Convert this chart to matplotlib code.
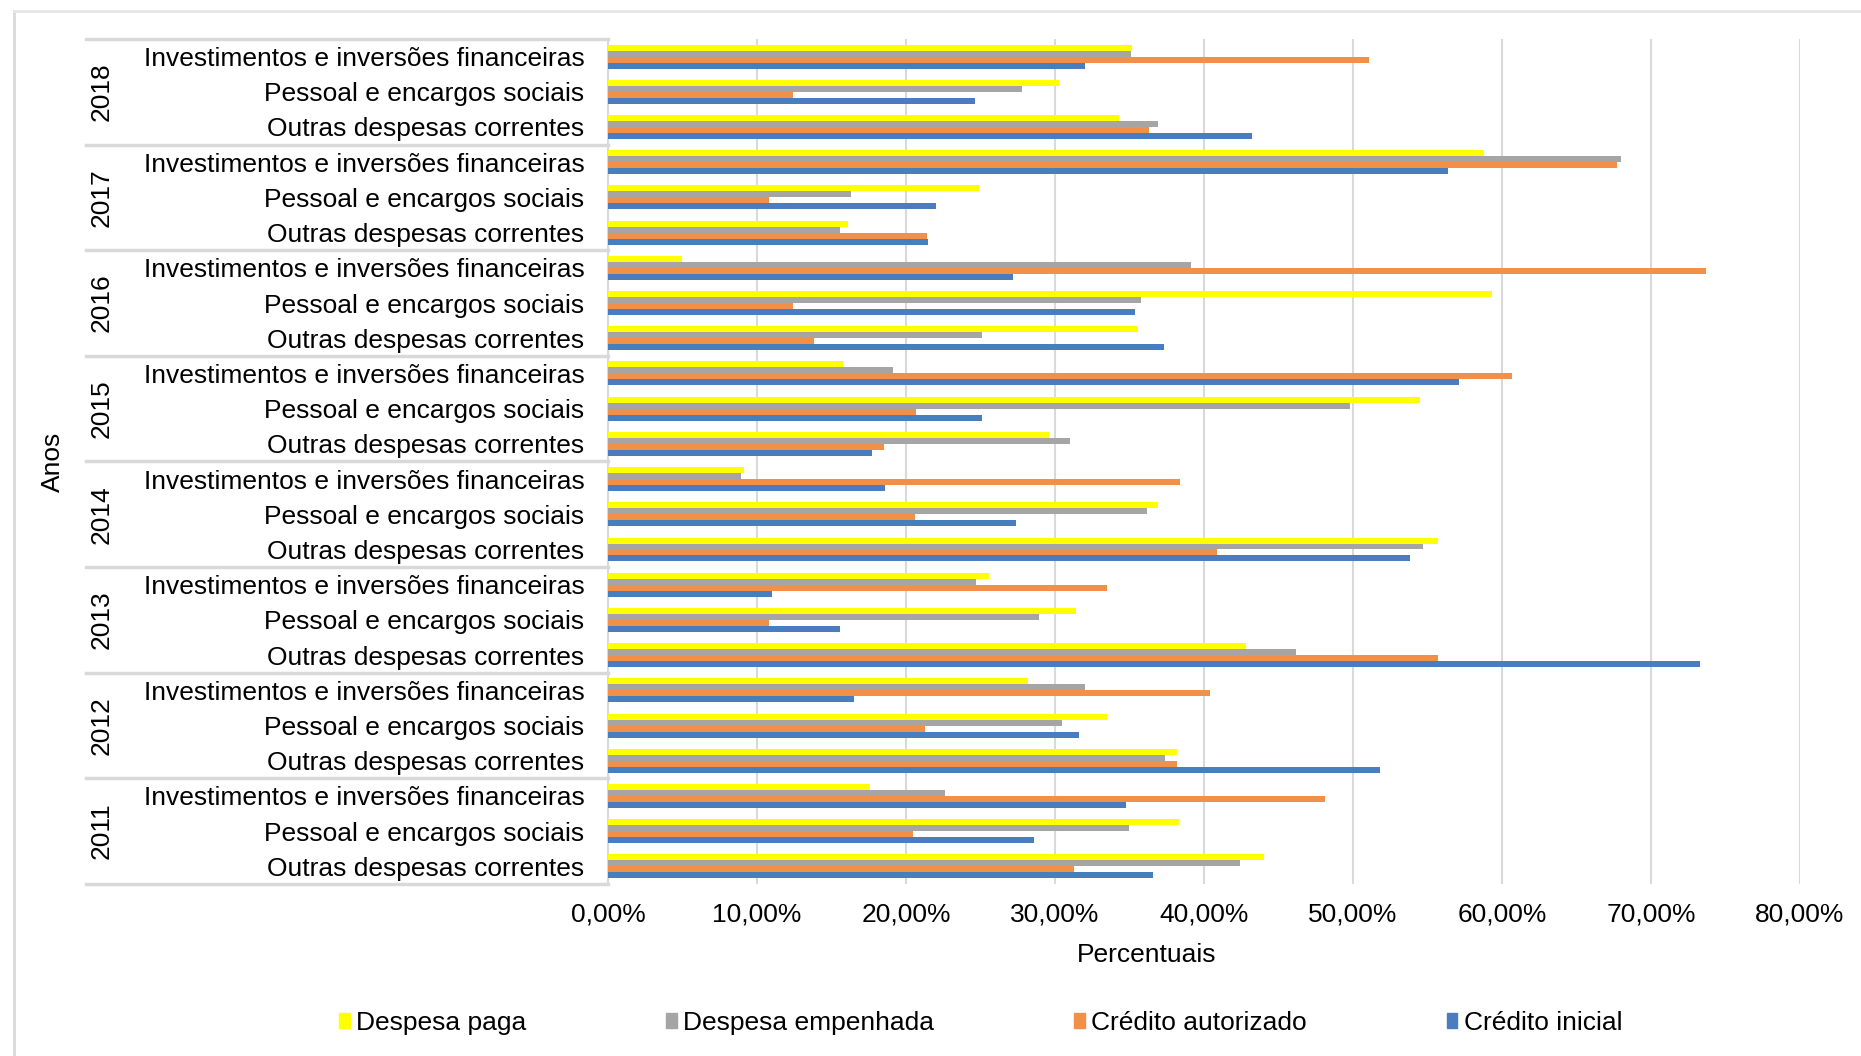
import numpy as np
import matplotlib.pyplot as plt
from matplotlib.patches import Patch
from matplotlib.lines import Line2D
from matplotlib.ticker import FuncFormatter

plt.rcParams['font.family'] = ['Liberation Sans', 'DejaVu Sans']

# anos e categorias de despesa (de cima para baixo)
anos = ['2018', '2017', '2016', '2015', '2014', '2013', '2012', '2011']
categorias = ['Investimentos e inversões financeiras',
              'Pessoal e encargos sociais',
              'Outras despesas correntes']

# percentuais por categoria, na ordem 2018 -> 2011
despesa_paga = [35.2, 30.3, 34.3, 58.8, 24.9, 16.1, 5.0, 59.3, 35.6,
                15.8, 54.5, 29.6, 9.1, 36.9, 55.7, 25.6, 31.4, 42.8,
                28.2, 33.5, 38.2, 17.6, 38.3, 44.0]
despesa_empenhada = [35.1, 27.8, 36.9, 68.0, 16.3, 15.6, 39.1, 35.8, 25.1,
                     19.1, 49.8, 31.0, 8.9, 36.2, 54.7, 24.7, 28.9, 46.2,
                     32.0, 30.5, 37.4, 22.6, 35.0, 42.4]
credito_autorizado = [51.1, 12.4, 36.3, 67.7, 10.8, 21.4, 73.7, 12.4, 13.8,
                      60.7, 20.7, 18.5, 38.4, 20.6, 40.9, 33.5, 10.8, 55.7,
                      40.4, 21.3, 38.2, 48.1, 20.5, 31.3]
credito_inicial = [32.0, 24.6, 43.2, 56.4, 22.0, 21.5, 27.2, 35.4, 37.3,
                   57.1, 25.1, 17.7, 18.6, 27.4, 53.8, 11.0, 15.6, 73.3,
                   16.5, 31.6, 51.8, 34.8, 28.6, 36.6]

series = [('Despesa paga', despesa_paga, '#FFFF00'),
          ('Despesa empenhada', despesa_empenhada, '#A5A5A5'),
          ('Crédito autorizado', credito_autorizado, '#F2904A'),
          ('Crédito inicial', credito_inicial, '#4A7DC0')]

fs = 19
fig = plt.figure(figsize=(18.61, 10.56), dpi=100)
ax = fig.add_axes([0.3267, 0.1629, 0.6405, 0.8002])

n = len(anos) * len(categorias)
y = np.arange(n)
h = 0.17
for k, (nome, vals, cor) in enumerate(series):
    ax.barh(y + (k - 1.5) * h, np.array(vals) / 100, height=h, color=cor,
            label=nome, zorder=3)

ax.set_ylim(n - 0.5, -0.5)
ax.set_xlim(0, 0.8)
ax.set_xticks(np.arange(0, 0.81, 0.1))
ax.xaxis.set_major_formatter(FuncFormatter(lambda v, p: f'{v*100:.2f}%'.replace('.', ',')))
ax.tick_params(axis='x', length=0, pad=13, labelsize=fs)
ax.set_yticks(y)
ax.set_yticklabels(categorias * len(anos))
ax.tick_params(axis='y', length=0, pad=17, labelsize=fs)
ax.grid(axis='x', color='#D9D9D9', linewidth=1.5, zorder=0)
for s in ['top', 'right', 'bottom']:
    ax.spines[s].set_visible(False)
ax.spines['left'].set_color('#D9D9D9')
ax.spines['left'].set_linewidth(1.5)

ax.set_xlabel('Percentuais', fontsize=fs)
ax.xaxis.set_label_coords(0.452, -0.07)

# rótulos de ano e linhas separadoras do eixo em dois níveis
tr = ax.get_yaxis_transform()
for i, ano in enumerate(anos):
    ax.text(-0.4245, i * 3 + 1, ano, transform=tr, rotation=90,
            ha='center', va='center', fontsize=fs)
for i in range(len(anos) + 1):
    ax.plot([-0.438, 0], [i * 3 - 0.5] * 2, transform=tr, color='#D9D9D9',
            linewidth=2.5, clip_on=False)
ax.text(-0.4656, n / 2 - 0.5, 'Anos', transform=tr, rotation=90,
        ha='center', va='center', fontsize=fs)

handles = [Patch(color=c, label=nm) for nm, v, c in series]
fig.legend(handles=handles, loc='center', bbox_to_anchor=(0.527, 0.031),
           ncol=4, frameon=False, fontsize=fs, handlelength=0.4,
           handleheight=0.5, handletextpad=0.25, columnspacing=5.3)

# moldura do gráfico
fig.add_artist(Line2D([14 / 1861, 14 / 1861], [0, 1 - 11 / 1056],
                      color='#D9D9D9', linewidth=2))
fig.add_artist(Line2D([14 / 1861, 1], [1 - 11 / 1056, 1 - 11 / 1056],
                      color='#E6E6E6', linewidth=2))

fig.savefig('out.png', dpi=100)
